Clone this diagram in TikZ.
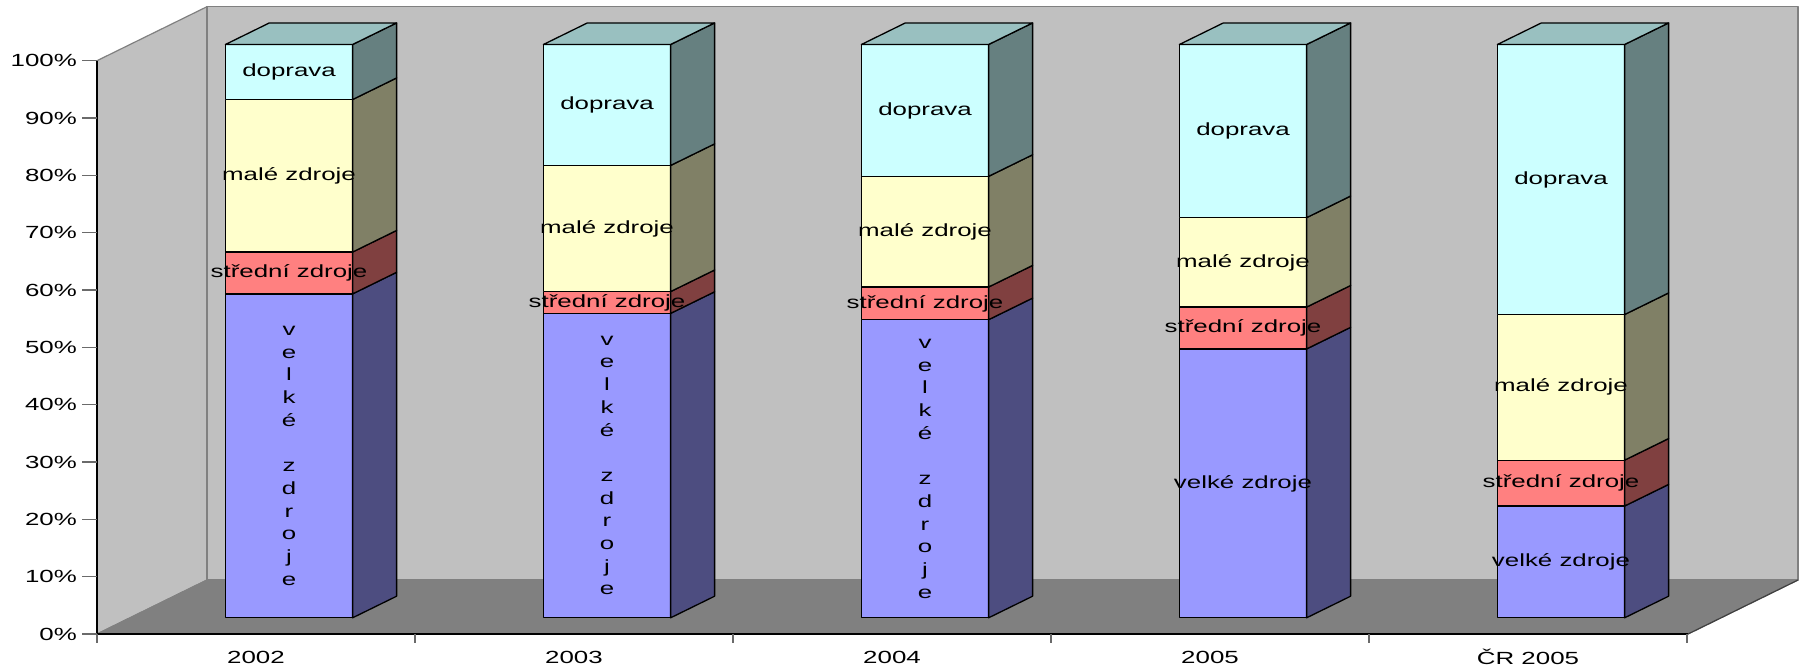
\documentclass[tikz,border=0pt]{standalone}
\usepackage{fontspec}
\setmainfont{Liberation Sans}
\usepackage{graphicx}
\definecolor{dopF}{HTML}{CCFFFF}
\definecolor{dopS}{HTML}{668080}
\definecolor{dopT}{HTML}{99C0C0}
\definecolor{malF}{HTML}{FFFFCC}
\definecolor{malS}{HTML}{808066}
\definecolor{strF}{HTML}{FF8080}
\definecolor{strS}{HTML}{804040}
\definecolor{velF}{HTML}{9999FF}
\definecolor{velS}{HTML}{4D4D80}
\definecolor{wallgray}{HTML}{C0C0C0}
\definecolor{floorgray}{HTML}{808080}
\definecolor{edgegray}{HTML}{808080}
\definecolor{tickgray}{HTML}{6A6A6A}
\newcommand{\sx}[1]{\scalebox{1.47}[1]{#1}}
\tikzset{
  barline/.style={draw=black, line width=1.3pt, line join=round},
  lbl/.style={font=\fontsize{17.6}{22.7}\selectfont, inner sep=0pt, text=black},
  wall/.style={fill=wallgray, draw=edgegray, line width=1.2pt, line join=round},
  tickline/.style={draw=tickgray, line width=1.2pt},
}
% #1 X0, #2 pa, #3 pb, #4 front colour, #5 side colour
\newcommand{\barseg}[5]{%
  \pgfmathsetmacro{\ya}{617.8-5.733*#2}%
  \pgfmathsetmacro{\yb}{617.8-5.733*#3}%
  \pgfmathsetmacro{\xb}{#1+127.2}%
  \filldraw[barline, fill=#4] (#1,\ya) rectangle (\xb,\yb);
  \filldraw[barline, fill=#5] (\xb,\ya) -- (\xb+44,\ya-21.6) -- (\xb+44,\yb-21.6) -- (\xb,\yb) -- cycle;
}
% #1 X0, #2 velke top, #3 stredni top, #4 male top
\newcommand{\onebar}[4]{%
  \barseg{#1}{0}{#2}{velF}{velS}
  \barseg{#1}{#2}{#3}{strF}{strS}
  \barseg{#1}{#3}{#4}{malF}{malS}
  \barseg{#1}{#4}{100}{dopF}{dopS}
  \pgfmathsetmacro{\yt}{617.8-573.3}%
  \pgfmathsetmacro{\xb}{#1+127.2}%
  \filldraw[barline, fill=dopT] (#1,\yt) -- (#1+44,\yt-21.6) -- (\xb+44,\yt-21.6) -- (\xb,\yt) -- cycle;
}
\newcommand{\vtext}{\sx{\begin{tabular}{@{}c@{}}v\\e\\l\\k\\é\\ \\z\\d\\r\\o\\j\\e\end{tabular}}}
\begin{document}
\begin{tikzpicture}[x=1pt,y=-1pt]
\useasboundingbox[fill=white] (0,0) rectangle (1804,667);
\coordinate (LFb) at (97,634);
\coordinate (LFt) at (97,60.7);
\coordinate (LBt) at (207,6.7);
\coordinate (LBb) at (207,580);
\coordinate (RBt) at (1798,6.7);
\coordinate (RBb) at (1798,580);
\coordinate (RFb) at (1688,634);
% walls and floor
\filldraw[wall] (LFb) -- (LFt) -- (LBt) -- (LBb) -- cycle;
\filldraw[wall] (LBt) -- (RBt) -- (RBb) -- (LBb) -- cycle;
\filldraw[fill=floorgray, draw=edgegray, line width=1.2pt, line join=round] (LFb) -- (LBb) -- (RBb) -- (RFb) -- cycle;
\draw[draw=black!75, line width=1.2pt] (RFb) -- (RBb);
\draw[black, line width=2.2pt] (LFb) -- (RFb);
\draw[black, line width=1.3pt] (LFb) -- (LFt);
% value axis
\foreach \p in {0,...,10}{
  \pgfmathsetmacro{\yy}{634-57.33*\p}
  \pgfmathtruncatemacro{\vv}{\p*10}
  \draw[tickline] (82,\yy) -- (97,\yy);
  \node[lbl, anchor=east] (ylab\p) at (77,\yy) {\sx{\vv\%}};
}
% category axis ticks
\foreach \i in {0,...,5}{
  \draw[tickline] (97+318*\i,634) -- (97+318*\i,643);
}
\node[lbl] (c1) at (256,657) {\sx{2002}};
\node[lbl] (c2) at (574,657) {\sx{2003}};
\node[lbl] (c3) at (892,657) {\sx{2004}};
\node[lbl] (c4) at (1210,657) {\sx{2005}};
\node[lbl] (c5) at (1528,657) {\sx{ČR 2005}};
% bars
\onebar{225.4}{56.5}{63.8}{90.4}
\onebar{543.4}{53.1}{56.9}{78.9}
\onebar{861.4}{52.0}{57.7}{77.0}
\onebar{1179.4}{46.9}{54.2}{69.8}
\onebar{1497.4}{19.5}{27.5}{52.9}
% labels 2002
\node[lbl] (d1) at (289,72) {\sx{doprava}};
\node[lbl] (m1) at (289,175.8) {\sx{malé zdroje}};
\node[lbl] (s1) at (289,273) {\sx{střední zdroje}};
\node[lbl] (v1) at (289,455.9) {\vtext};
% 2003
\node[lbl] (d2) at (607,105) {\sx{doprava}};
\node[lbl] (m2) at (607,228.6) {\sx{malé zdroje}};
\node[lbl] (s2) at (607,302.5) {\sx{střední zdroje}};
\node[lbl] (v2) at (607,465.6) {\vtext};
% 2004
\node[lbl] (d3) at (925,110.5) {\sx{doprava}};
\node[lbl] (m3) at (925,231.7) {\sx{malé zdroje}};
\node[lbl] (s3) at (925,303.4) {\sx{střední zdroje}};
\node[lbl] (v3) at (925,468.8) {\vtext};
% 2005
\node[lbl] (d4) at (1243,131) {\sx{doprava}};
\node[lbl] (m4) at (1243,262.4) {\sx{malé zdroje}};
\node[lbl] (s4) at (1243,328) {\sx{střední zdroje}};
\node[lbl] (v4) at (1243,483.4) {\sx{velké zdroje}};
% CR 2005
\node[lbl] (d5) at (1561,179.5) {\sx{doprava}};
\node[lbl] (m5) at (1561,387.3) {\sx{malé zdroje}};
\node[lbl] (s5) at (1561,483) {\sx{střední zdroje}};
\node[lbl] (v5) at (1561,561.9) {\sx{velké zdroje}};
\end{tikzpicture}
\end{document}
